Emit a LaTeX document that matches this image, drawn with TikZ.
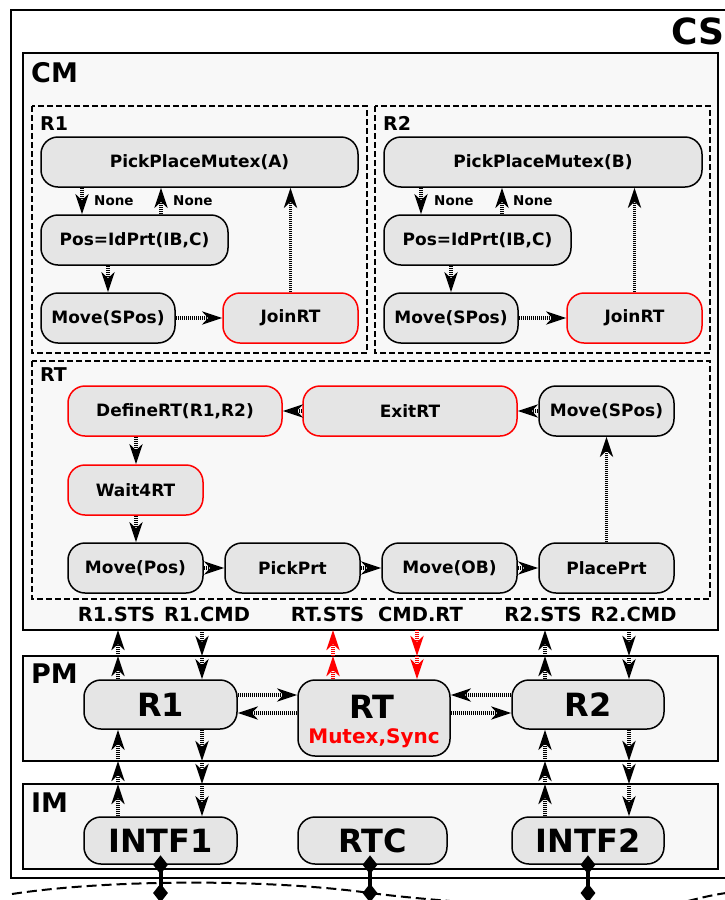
\documentclass[tikz,border=0pt]{standalone}
\usepackage{fontspec}
\setmainfont{DejaVu Sans}
\usetikzlibrary{arrows.meta,shapes.geometric}
\definecolor{nodefill}{HTML}{E5E5E5}
\definecolor{boxfill}{HTML}{F8F8F8}
\begin{document}
\begin{tikzpicture}[x=1pt,y=-1pt,
  nd/.style={draw=black, line width=1.5pt, fill=nodefill, rounded corners=17pt,
    minimum height=50pt, inner sep=0pt, font=\bfseries\fontsize{17}{20}\selectfont},
  rnd/.style={nd, draw=red},
  bignd/.style={nd, font=\bfseries\fontsize{32}{36}\selectfont},
  outerbox/.style={draw=black, line width=1.8pt, fill=boxfill},
  regionbox/.style={draw=black, line width=1.4pt, dash pattern=on 6pt off 3pt},
  title/.style={anchor=base west, inner sep=0pt, font=\bfseries\fontsize{27}{30}\selectfont},
  rtitle/.style={anchor=base west, inner sep=0pt, font=\bfseries\fontsize{19}{22}\selectfont},
  port/.style={anchor=base, inner sep=0pt, font=\bfseries\fontsize{19.5}{22}\selectfont},
  lbl/.style={anchor=west, inner sep=0pt, font=\bfseries\fontsize{13.5}{16}\selectfont},
  arr/.style={line width=3.6pt, dash pattern=on 1.3pt off 0.7pt,
    -{Stealth[length=20pt,width=13pt,inset=6pt]}},
  dia/.style={diamond, fill=black, inner sep=0pt, minimum width=15pt, minimum height=19pt},
  link/.style={line width=4pt},
  bus/.style={line width=2pt, dash pattern=on 10pt off 5pt}
]
\useasboundingbox (0,0) rectangle (724,900);
\fill[white] (0,0) rectangle (724,900);

% outer containers
\draw[line width=2pt] (11,10) rectangle (740,878);
\node[anchor=base west, inner sep=0pt, font=\bfseries\fontsize{36}{40}\selectfont] (cslbl) at (671,44) {CS};

\draw[outerbox] (23,53) rectangle (718,630);
\node[title] (cmlbl) at (31,82) {CM};
\draw[regionbox] (32,106) rectangle (367,353);
\draw[regionbox] (375,106) rectangle (710,353);
\draw[regionbox] (32,361) rectangle (710,599);
\node[rtitle] (r1lbl) at (40,130) {R1};
\node[rtitle] (r2lbl) at (383,130) {R2};
\node[rtitle] (rtlbl) at (40,381) {RT};

\draw[outerbox] (23,656) rectangle (718,761);
\node[title] (pmlbl) at (31,683) {PM};
\draw[outerbox] (23,784) rectangle (718,869);
\node[title] (imlbl) at (31,812) {IM};

% R1 region
\node[nd, minimum width=317pt] (ppmA) at (199.5,162) {PickPlaceMutex(A)};
\node[nd, minimum width=187pt] (posA) at (134.5,240) {Pos=IdPrt(IB,C)};
\node[nd, minimum width=134pt] (mvA) at (108,318) {Move(SPos)};
\node[rnd, minimum width=135pt] (joinA) at (290.5,318) {JoinRT};
% R2 region
\node[nd, minimum width=318pt] (ppmB) at (543,162) {PickPlaceMutex(B)};
\node[nd, minimum width=187pt] (posB) at (477.5,240) {Pos=IdPrt(IB,C)};
\node[nd, minimum width=134pt] (mvB) at (451,318) {Move(SPos)};
\node[rnd, minimum width=135pt] (joinB) at (634.5,318) {JoinRT};
% RT region
\node[rnd, minimum width=214pt] (def) at (175,411) {DefineRT(R1,R2)};
\node[rnd, minimum width=214pt] (exit) at (410,411) {ExitRT};
\node[nd, minimum width=135pt] (mvS) at (606.5,411) {Move(SPos)};
\node[rnd, minimum width=135pt] (wait) at (135.5,490) {Wait4RT};
\node[nd, minimum width=135pt] (mvP) at (135.5,568) {Move(Pos)};
\node[nd, minimum width=135pt] (pick) at (292.5,568) {PickPrt};
\node[nd, minimum width=135pt] (mvO) at (449.5,568) {Move(OB)};
\node[nd, minimum width=135pt] (place) at (606.5,568) {PlacePrt};

% port labels
\node[port] (l1) at (116.5,621) {R1.STS};
\node[port] (l2) at (207,621) {R1.CMD};
\node[port] (l3) at (327.5,621) {RT.STS};
\node[port] (l4) at (420.5,621) {CMD.RT};
\node[port] (l5) at (543,621) {R2.STS};
\node[port] (l6) at (633.5,621) {R2.CMD};

% PM nodes
\node[bignd, minimum width=153pt, minimum height=49pt] (pr1) at (160.5,704.5) {R1};
\node[nd, minimum width=152pt, minimum height=76pt] (prt) at (374,718) {};
\node[anchor=base, inner sep=0pt, font=\bfseries\fontsize{32}{36}\selectfont] (prtt) at (372,718) {RT};
\node[anchor=base, inner sep=0pt, text=red, font=\bfseries\fontsize{20}{24}\selectfont] (prts) at (374,743) {Mutex,Sync};
\node[bignd, minimum width=152pt, minimum height=49pt] (pr2) at (588,704.5) {R2};

% IM nodes
\node[bignd, minimum width=153pt, minimum height=47pt] (i1) at (160.5,840.5) {INTF1};
\node[bignd, minimum width=149pt, minimum height=47pt] (rtc) at (372.5,840.5) {RTC};
\node[bignd, minimum width=152pt, minimum height=47pt] (i2) at (588,840.5) {INTF2};

% helper coordinates
\coordinate (cA1) at (82,0);
\coordinate (cA2) at (161,0);
\coordinate (cB1) at (421,0);
\coordinate (cB2) at (502,0);
\coordinate (cDef) at (136,0);
\coordinate (c1u) at (118,0);
\coordinate (c1d) at (202,0);
\coordinate (cru) at (333,0);
\coordinate (crd) at (417,0);
\coordinate (c2u) at (545,0);
\coordinate (c2d) at (629,0);
\coordinate (cmb) at (0,630);
\coordinate (pmt) at (0,656);
\coordinate (pmb) at (0,761);
\coordinate (imt) at (0,784);
\coordinate (hA) at (0,695);
\coordinate (hB) at (0,713);
\coordinate (busy) at (0,893);
\coordinate (crtc) at (370,0);

% R1 connectors
\draw[arr] (ppmA.south -| cA1) -- (posA.north -| cA1);
\draw[arr] (posA.north -| cA2) -- (ppmA.south -| cA2);
\node[lbl] (nA1) at (94,201) {None};
\node[lbl] (nA2) at (173,201) {None};
\draw[arr] (posA.south -| mvA.north) -- (mvA.north);
\draw[arr] (mvA.east) -- (joinA.west);
\draw[arr] (joinA.north) -- (ppmA.south -| joinA.north);
% R2 connectors
\draw[arr] (ppmB.south -| cB1) -- (posB.north -| cB1);
\draw[arr] (posB.north -| cB2) -- (ppmB.south -| cB2);
\node[lbl] (nB1) at (434,201) {None};
\node[lbl] (nB2) at (513,201) {None};
\draw[arr] (posB.south -| mvB.north) -- (mvB.north);
\draw[arr] (mvB.east) -- (joinB.west);
\draw[arr] (joinB.north) -- (ppmB.south -| joinB.north);
% RT connectors
\draw[arr] (mvS.west) -- (exit.east);
\draw[arr] (exit.west) -- (def.east);
\draw[arr] (def.south -| cDef) -- (wait.north -| cDef);
\draw[arr] (wait.south -| cDef) -- (mvP.north -| cDef);
\draw[arr] (mvP.east) -- (pick.west);
\draw[arr] (pick.east) -- (mvO.west);
\draw[arr] (mvO.east) -- (place.west);
\draw[arr] (place.north) -- (mvS.south);

% R1 interfaces
\draw[arr] (pr1.north -| c1u) -- (pmt -| c1u);
\draw[arr] (pmt -| c1u) -- (cmb -| c1u);
\draw[arr] (cmb -| c1d) -- (pmt -| c1d);
\draw[arr] (pmt -| c1d) -- (pr1.north -| c1d);
\draw[arr] (i1.north -| c1u) -- (imt -| c1u);
\draw[arr] (imt -| c1u) -- (pmb -| c1u);
\draw[arr] (pmb -| c1u) -- (pr1.south -| c1u);
\draw[arr] (pr1.south -| c1d) -- (pmb -| c1d);
\draw[arr] (pmb -| c1d) -- (imt -| c1d);
\draw[arr] (imt -| c1d) -- (i1.north -| c1d);
% RT interfaces
\draw[arr, red] (prt.north -| cru) -- (pmt -| cru);
\draw[arr, red] (pmt -| cru) -- (cmb -| cru);
\draw[arr, red] (cmb -| crd) -- (pmt -| crd);
\draw[arr, red] (pmt -| crd) -- (prt.north -| crd);
% R2 interfaces
\draw[arr] (pr2.north -| c2u) -- (pmt -| c2u);
\draw[arr] (pmt -| c2u) -- (cmb -| c2u);
\draw[arr] (cmb -| c2d) -- (pmt -| c2d);
\draw[arr] (pmt -| c2d) -- (pr2.north -| c2d);
\draw[arr] (i2.north -| c2u) -- (imt -| c2u);
\draw[arr] (imt -| c2u) -- (pmb -| c2u);
\draw[arr] (pmb -| c2u) -- (pr2.south -| c2u);
\draw[arr] (pr2.south -| c2d) -- (pmb -| c2d);
\draw[arr] (pmb -| c2d) -- (imt -| c2d);
\draw[arr] (imt -| c2d) -- (i2.north -| c2d);
% PM horizontal
\draw[arr] (pr1.east |- hA) -- (prt.west |- hA);
\draw[arr] (prt.west |- hB) -- (pr1.east |- hB);
\draw[arr] (pr2.west |- hA) -- (prt.east |- hA);
\draw[arr] (prt.east |- hB) -- (pr2.west |- hB);

% bus
\draw[bus] (12,894) .. controls (110,879) and (270,879) .. (370,893)
  .. controls (410,898) and (440,900) .. (472,903);
\draw[bus] (688,901) .. controls (700,898) and (712,895) .. (726,893);
\draw[link] (i1.south) -- (i1.south |- busy);
\draw[link] (rtc.south -| crtc) -- (busy -| crtc);
\draw[link] (i2.south) -- (i2.south |- busy);
\node[dia] (d1a) at (i1.south) {};
\node[dia] (d1b) at (i1.south |- busy) {};
\node[dia] (d2a) at (rtc.south -| crtc) {};
\node[dia] (d2b) at (busy -| crtc) {};
\node[dia] (d3a) at (i2.south) {};
\node[dia] (d3b) at (i2.south |- busy) {};
\end{tikzpicture}
\end{document}
